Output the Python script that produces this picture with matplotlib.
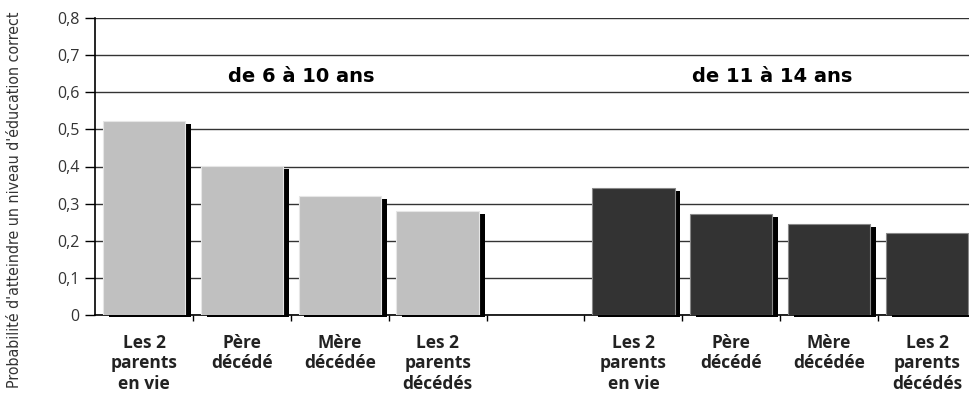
import matplotlib.pyplot as plt
import numpy as np

# probabilities by parental situation, two age groups
categories = ["Les 2\nparents\nen vie", "Père\ndécédé", "Mère\ndécédée", "Les 2\nparents\ndécédés"]
age_6_10 = [0.523, 0.402, 0.320, 0.280]
age_11_14 = [0.342, 0.272, 0.245, 0.221]
group_titles = ["de 6 à 10 ans", "de 11 à 14 ans"]
y_ticks = [0, 0.1, 0.2, 0.3, 0.4, 0.5, 0.6, 0.7, 0.8]
y_labels = ["0", "0,1", "0,2", "0,3", "0,4", "0,5", "0,6", "0,7", "0,8"]

fig = plt.figure(figsize=(9.69, 3.99), dpi=100)
ax = fig.add_axes([95 / 969, 84 / 399, 881 / 969, 297 / 399])

x1 = np.arange(4)
x2 = np.arange(5, 9)
w = 0.84
shift = 0.06

# black drop shadow behind each bar
for xs, vals in [(x1, age_6_10), (x2, age_11_14)]:
    ax.bar(xs + shift, np.array(vals) - 0.002, bottom=-0.006, width=w, color="black",
           zorder=2, clip_on=False)
ax.bar(x1, age_6_10, width=w, color="#c0c0c0", edgecolor="#e6e6e6", linewidth=0.8, zorder=3)
ax.bar(x2, age_11_14, width=w, color="#333333", edgecolor="#888888", linewidth=0.8, zorder=3)

ax.set_xlim(-0.5, 8.5)
ax.set_ylim(0, 0.8)
ax.set_yticks(y_ticks)
ax.set_yticklabels(y_labels, fontsize=11.5, color="#333333", family="Open Sans")
ax.yaxis.grid(True, color="#333333", linewidth=1.0, zorder=0)
ax.set_axisbelow(True)

# category ticks sit on the boundaries between bars
ax.set_xticks(np.arange(0.5, 8.5, 1.0))
ax.set_xticklabels([])
ax.tick_params(axis="x", length=4, width=1, direction="out", color="black")
ax.tick_params(axis="y", length=7, width=1, direction="out", color="black", pad=4)
for pos in list(x1) + list(x2):
    ax.text(pos, -0.05, categories[pos if pos < 4 else pos - 5], ha="center", va="top",
            fontsize=12.5, fontweight="bold", family="Open Sans", color="#222222",
            linespacing=1.18)

ax.text(1.61, 0.643, group_titles[0], ha="center", va="center", fontsize=14, fontweight="bold")
ax.text(6.42, 0.643, group_titles[1], ha="center", va="center", fontsize=14, fontweight="bold")

for side in ["top", "right"]:
    ax.spines[side].set_visible(False)
ax.spines["left"].set_linewidth(1.2)
ax.spines["bottom"].set_linewidth(1.2)

fig.text(15 / 969, 0.5, "Probabilité d'atteindre un niveau d'éducation correct", rotation=90,
         ha="center", va="center", fontsize=11.4, family="DejaVu Sans", stretch="condensed",
         color="#333333")

fig.savefig("out.png", dpi=100)
